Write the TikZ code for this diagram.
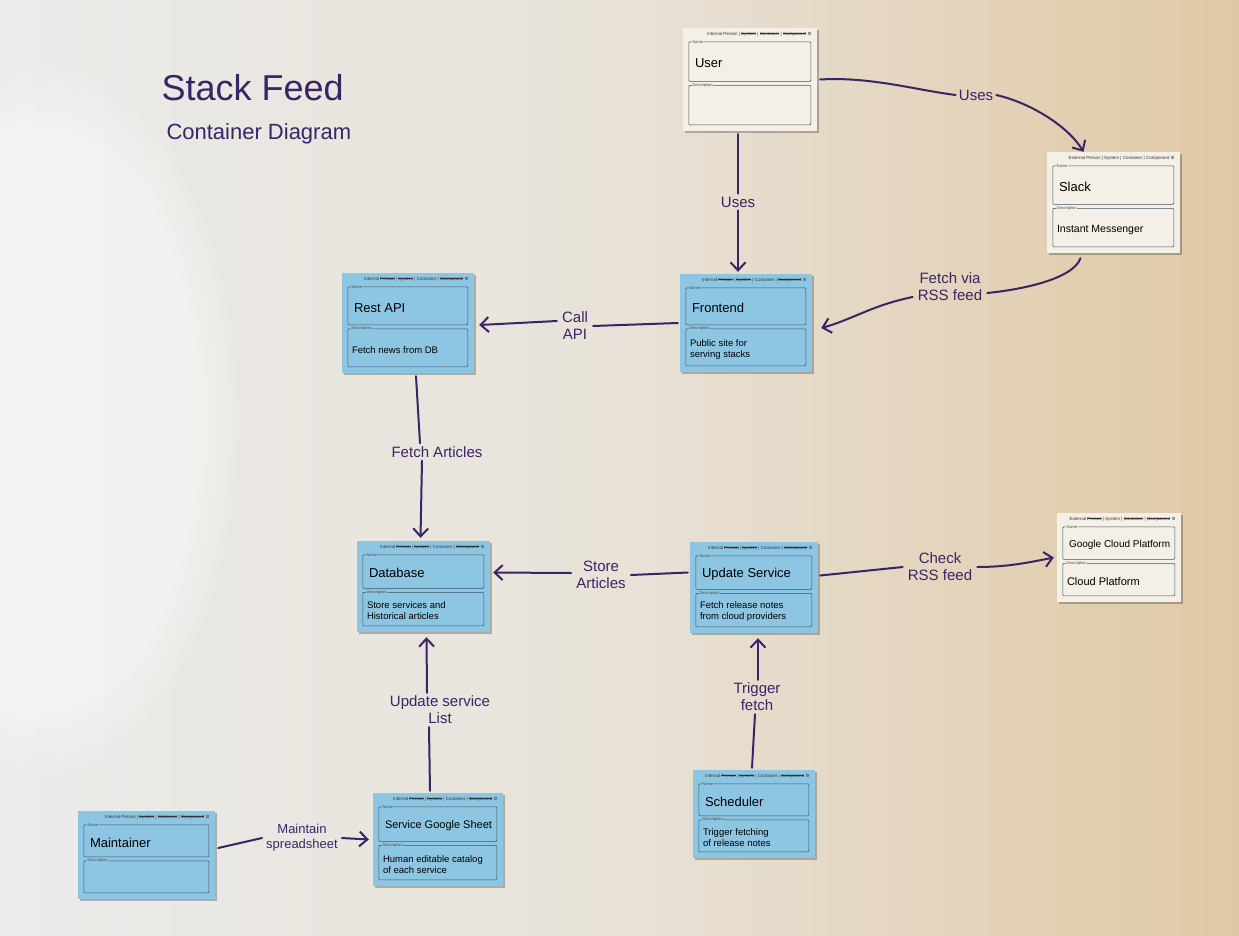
\documentclass[tikz,border=0pt]{standalone}
\usepackage{fontspec}
\setmainfont{Liberation Sans}
\newfontfamily\symfont{DejaVu Sans}
\usetikzlibrary{arrows.meta,calc,shadows,fadings}

\newsavebox\strkbox
\newcommand{\strk}[1]{\sbox\strkbox{#1}\rlap{\rule[0.55ex]{\wd\strkbox}{0.5pt}}\usebox\strkbox}

\definecolor{inkc}{HTML}{3A2466}
\definecolor{bluec}{HTML}{8DC6E3}
\definecolor{creamc}{HTML}{F4EFE7}
\definecolor{boxc}{HTML}{3F5566}
\definecolor{bgL}{HTML}{EBEBEA}
\definecolor{bgM}{HTML}{E8E2D8}
\definecolor{bgR}{HTML}{E0C8A4}

\tikzset{
  ink/.style={draw=inkc, line width=2pt, line cap=round},
  arr/.style={ink, -{Straight Barb[length=8pt,width=15pt]}},
  lbl/.style={text=inkc, font=\fontsize{15}{17}\selectfont, align=center, inner sep=3pt},
  notebox/.style={rectangle, inner sep=0pt, draw=none,
    drop shadow={shadow xshift=1.5pt, shadow yshift=-1.5pt, opacity=.25, fill=black}},
  innerbox/.style={draw=boxc, line width=0.6pt, rounded corners=1pt},
  hdr/.style={font=\fontsize{4.5}{5}\selectfont, text=black!80, inner sep=0pt},
  tinylbl/.style={font=\fontsize{4}{4.5}\selectfont, text=black!70, inner sep=0.6pt},
  nametxt/.style={font=\fontsize{13}{15}\selectfont, text=black, inner sep=0pt},
  desctxt/.style={font=\fontsize{9.5}{11}\selectfont, text=black, align=left, inner sep=0pt}
}

\newcommand{\hdrC}{Internal \strk{Person} | \strk{System} | Container | \strk{Component} {\symfont ⚙}}
\newcommand{\hdrP}{Internal Person | \strk{System} | \strk{Container} | \strk{Component} {\symfont ⚙}}
\newcommand{\hdrS}{External \strk{Person} | System | \strk{Container} | \strk{Component} {\symfont ⚙}}
\newcommand{\hdrX}{External Person | System | Container | Component {\symfont ⚙}}

% #1 name, #2 x, #3 y, #4 w, #5 h, #6 fill, #7 header, #8 name text, #9 description
\newcommand{\stickynote}[9]{%
  \node[notebox, fill=#6, minimum width=#4pt, minimum height=#5pt] (#1) at (#2,#3) {};
  \pgfmathsetmacro\snBoxH{(#5-24)/2}
  \begin{scope}[shift={(#1.north west)}]
    \node[hdr, anchor=north east] at (#4-5,4) {#7};
    \draw[innerbox] (6,14) rectangle (#4-6,14+\snBoxH);
    \draw[innerbox] (6,18+\snBoxH) rectangle (#4-6,18+2*\snBoxH);
    \node[tinylbl, fill=#6, anchor=west] at (9,14) {Name};
    \node[tinylbl, fill=#6, anchor=west] at (9,18+\snBoxH) {Description};
    \node[nametxt, anchor=west] at (12,14+0.55*\snBoxH) {#8};
    \node[desctxt, anchor=west] at (10,18+1.55*\snBoxH) {#9};
  \end{scope}}

\begin{document}
\begin{tikzpicture}[x=1pt, y=-1pt]
  % background
  \shade[left color=bgL, right color=bgR, middle color=bgM] (0,0) rectangle (1239,935);
  \useasboundingbox (0,0) rectangle (1239,935);
  \fill[white, opacity=0.4, path fading=circle with fuzzy edge 20 percent] (40,420) ellipse [x radius=200, y radius=360];

  % title
  \node[text=inkc, font=\fontsize{36}{40}\selectfont, anchor=west] (title) at (158,88) {Stack Feed};
  \node[text=inkc, font=\fontsize{22}{24}\selectfont, anchor=west] (subtitle) at (163,134) {Container Diagram};

  % notes
  \stickynote{user}{750}{79.5}{134}{103}{creamc}{\hdrP}{User}{}
  \stickynote{slack}{1113.5}{202.5}{133}{101}{creamc}{\hdrX}{Slack}{\fontsize{10.5}{12}\selectfont Instant Messenger}
  \stickynote{restapi}{408}{323}{132}{100}{bluec}{\hdrC}{Rest API}{Fetch news from DB}
  \stickynote{frontend}{746}{323}{132}{98}{bluec}{\hdrC}{Frontend}{Public site for\\serving stacks}
  \stickynote{database}{423.5}{586.5}{133}{91}{bluec}{\hdrC}{Database}{Store services and\\Historical articles}
  \stickynote{update}{754}{587.5}{128}{91}{bluec}{\hdrC}{Update Service}{Fetch release notes\\from cloud providers}
  \stickynote{gcp}{1119}{557.5}{124}{89}{creamc}{\hdrS}{\fontsize{10}{12}\selectfont Google Cloud Platform}{\fontsize{11}{13}\selectfont Cloud Platform}
  \stickynote{maintainer}{146.5}{855}{137}{88}{bluec}{\hdrP}{Maintainer}{}
  \stickynote{sheet}{438}{839.5}{130}{93}{bluec}{\hdrC}{\fontsize{11}{13}\selectfont Service Google Sheet}{Human editable catalog\\of each service}
  \stickynote{scheduler}{754}{814}{122}{88}{bluec}{\hdrC}{Scheduler}{Trigger fetching\\of release notes}

  % connector labels
  \node[lbl] (l1) at (976,95) {Uses};
  \node[lbl] (l2) at (738,202) {Uses};
  \node[lbl] (l3) at (950,287) {Fetch via\\RSS feed};
  \node[lbl] (l4) at (575,326) {Call\\API};
  \node[lbl] (l5) at (437,452) {Fetch Articles};
  \node[lbl] (l6) at (601,575) {Store\\Articles};
  \node[lbl] (l7) at (940,567) {Check\\RSS feed};
  \node[lbl] (l8) at (757,697) {Trigger\\fetch};
  \node[lbl] (l9) at (440,710) {Update service\\List};
  \node[lbl, font=\fontsize{13}{15}\selectfont] (l10) at (302,838) {Maintain\\spreadsheet};

  % connectors
  \draw[ink] ($(user.east)+(3,0)$) .. controls +(50,-3) and +(-40,-5) .. (l1.west);
  \draw[arr] (l1.east) .. controls +(35,8) and +(-15,-25) .. ($(slack.north)+(-30,0)$);

  \draw[ink] ($(user.south -| l2)+(0,3)$) -- (l2.north);
  \draw[arr] (l2.south) -- ($(l2 |- frontend.north)+(0,-2)$);

  \draw[ink] ($(slack.south)+(-33,5)$) .. controls +(-8,22) and +(30,-3) .. ($(l3.east)+(2,6)$);
  \draw[arr] ($(l3.west)+(-2,10)$) .. controls +(-40,8) and +(30,-8) .. ($(frontend.east)+(9,5)$);

  \draw[ink] ($(frontend.west)+(-2,0)$) -- ($(l4.east)+(2,0)$);
  \draw[arr] ($(l4.west)+(-2,-5)$) -- ($(restapi.east)+(5,2)$);

  \draw[ink] ($(restapi.south)+(8,3)$) -- ($(l5.north)+(-17,0)$);
  \draw[arr] ($(l5.south)+(-15,0)$) -- ($(database.north)+(-3,-3)$);

  \draw[ink] ($(update.west)+(-2,-15)$) -- ($(l6.east)+(2,0)$);
  \draw[arr] ($(l6.west)+(-2,-2)$) -- ($(database.east)+(3,-14)$);

  \draw[ink] ($(update.east)+(2,-12)$) -- ($(l7.west)+(-2,0)$);
  \draw[arr] ($(l7.east)+(2,0)$) .. controls +(30,0) and +(-25,5) .. ($(gcp.west)+(-3,0)$);

  \draw[ink] ($(scheduler.north)+(-2,-2)$) -- ($(l8.south)+(-2,0)$);
  \draw[arr] ($(l8.north)+(1,0)$) -- ($(update.south)+(4,5)$);

  \draw[ink] ($(sheet.north)+(-8,-2)$) -- ($(l9.south)+(-11,0)$);
  \draw[arr] ($(l9.north)+(-13,0)$) -- ($(database.south)+(3,5)$);

  \draw[ink] ($(maintainer.east)+(3,-7)$) -- ($(l10.west)+(-1,0)$);
  \draw[arr] ($(l10.east)+(1,0)$) -- ($(sheet.west)+(-4,0)$);
\end{tikzpicture}
\end{document}
